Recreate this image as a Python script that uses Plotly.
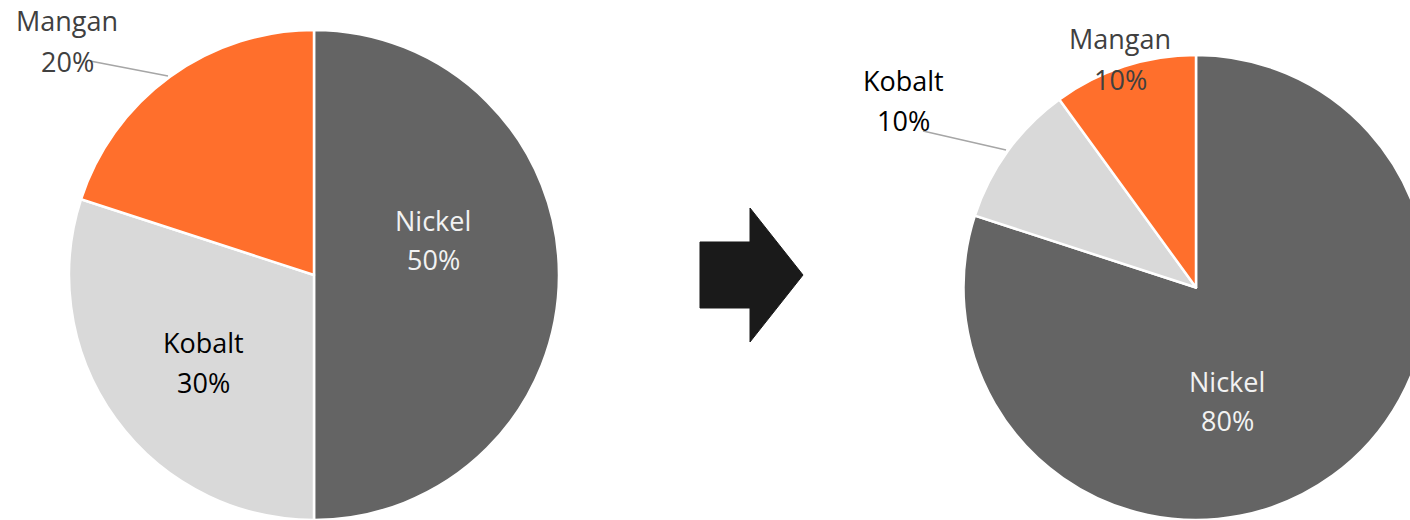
import plotly.graph_objects as go

# ---- data ----
labels = ["Nickel", "Kobalt", "Mangan"]
before_values = [50, 30, 20]
after_values = [80, 10, 10]

# ---- style ----
slice_colors = ["#646464", "#d9d9d9", "#ff6f2c"]
text_colors = {"Nickel": "#f2f2f2", "Kobalt": "#000000", "Mangan": "#404040"}
FONT = "Open Sans"
FS = 27

W, H = 1430, 520


def px(x):
    return x / W


def py(y):
    return 1 - y / H


fig = go.Figure()

fig.add_trace(go.Pie(
    labels=labels, values=before_values, sort=False, direction="clockwise",
    rotation=0, textinfo="none", hoverinfo="label+percent", showlegend=False,
    marker=dict(colors=slice_colors, line=dict(color="white", width=2.5)),
    domain=dict(x=[px(69), px(559)], y=[0, py(30)]),
))
fig.add_trace(go.Pie(
    labels=labels, values=after_values, sort=False, direction="clockwise",
    rotation=0, textinfo="none", hoverinfo="label+percent", showlegend=False,
    marker=dict(colors=slice_colors, line=dict(color="white", width=2.5)),
    domain=dict(x=[px(963), px(1429)], y=[0, py(55)]),
))

# label positions (pixel centres of name line and percent line)
label_pos_before = {
    "Nickel": (433, 220.5, 259.5),
    "Kobalt": (204, 342, 382),
    "Mangan": (67, 20.5, 61),
}
label_pos_after = {
    "Nickel": (1227, 381.5, 420),
    "Kobalt": (904, 80, 120),
    "Mangan": (1120, 39, 79),
}

annotations = []
for vals, pos in ((before_values, label_pos_before), (after_values, label_pos_after)):
    for lab, v in zip(labels, vals):
        x, y1, y2 = pos[lab]
        for txt, yy in ((lab, y1), (f"{v}%", y2)):
            annotations.append(dict(
                x=px(x), y=py(yy), xref="paper", yref="paper", text=txt,
                showarrow=False, xanchor="center", yanchor="middle",
                font=dict(family=FONT, size=FS, color=text_colors[lab]),
            ))

# leader lines for outside labels
leaders = [((90, 61), (168, 76)), ((923, 131), (1006, 150))]
shapes = []
for (x0, y0), (x1, y1) in leaders:
    shapes.append(dict(type="line", xref="paper", yref="paper",
                       x0=px(x0), y0=py(y0), x1=px(x1), y1=py(y1),
                       line=dict(color="#a6a6a6", width=1.5), layer="above"))

# block arrow between the pies
arrow_pts = [(700, 242), (750, 242), (750, 208), (803, 275), (750, 342), (750, 308), (700, 308)]
path = "M " + " L ".join(f"{px(a):.5f},{py(b):.5f}" for a, b in arrow_pts) + " Z"
shapes.append(dict(type="path", xref="paper", yref="paper", path=path,
                   fillcolor="#1a1a1a", line=dict(color="#1a1a1a", width=1)))

fig.update_layout(
    width=W, height=H,
    margin=dict(l=0, r=0, t=0, b=0),
    paper_bgcolor="white", plot_bgcolor="white",
    annotations=annotations, shapes=shapes,
    font=dict(family=FONT),
)

fig.write_html(
    "out.html",
    config={"displayModeBar": False},
    post_script="document.body.style.margin='0';document.body.style.overflow='hidden';"
                "document.documentElement.style.overflow='hidden';",
)
